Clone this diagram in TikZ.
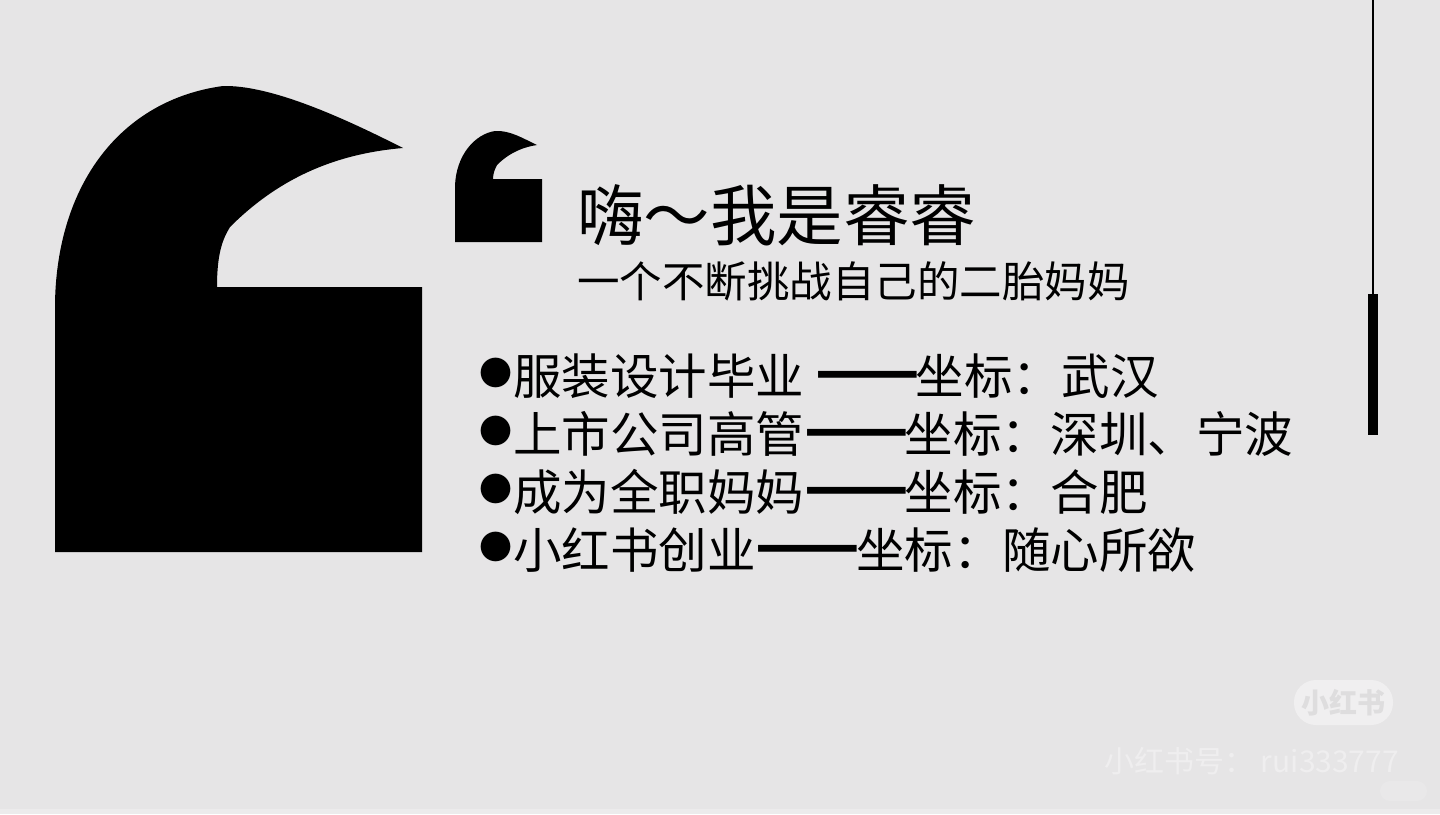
\documentclass[tikz,border=0pt]{standalone}
\usepackage{fontspec}
\setmainfont{Noto Sans CJK SC}
\definecolor{bgc}{HTML}{E6E5E6}
\definecolor{wmlight}{HTML}{F0EFF0}
\definecolor{wmdark}{HTML}{DEDDDE}
\definecolor{wmtext}{HTML}{EFEEEF}
\definecolor{stripc}{HTML}{ECEBEC}
\definecolor{pillc}{HTML}{E9E8E9}
\newcommand{\blt}{\raisebox{8.5pt}{\fontsize{33pt}{33pt}\selectfont ●}\hspace{1pt}}
\newcommand{\dsh}{\raisebox{1.5pt}{\fontsize{61pt}{61pt}\selectfont\bfseries ——}\hspace{-4pt}}
\tikzset{
  title/.style={anchor=base west,inner sep=0pt,font=\fontsize{66.5pt}{66.5pt}\selectfont,text=black},
  subtitle/.style={anchor=base west,inner sep=0pt,font=\fontsize{42.5pt}{42.5pt}\selectfont,text=black},
  bodyline/.style={anchor=base west,inner sep=0pt,font=\fontsize{48.5pt}{48.5pt}\selectfont,text=black},
  wm/.style={anchor=base west,inner sep=0pt,text=wmtext,font=\fontsize{30pt}{30pt}\selectfont},
  blackshape/.style={fill=black,draw=none}
}
\begin{document}
\begin{tikzpicture}[x=1pt,y=-1pt]
\useasboundingbox (0,0) rectangle (1440,814);
\fill[bgc] (0,0) rectangle (1440,814);
\fill[stripc] (0,809) rectangle (1440,814);
% large quote mark
\path[blackshape] (55,552) -- (55,303)
  .. controls (57,185) and (120,100) .. (223,86)
  .. controls (270,85) and (340,116) .. (403,148)
  .. controls (345,153) and (285,172) .. (230,227)
  .. controls (222,240) and (217,255) .. (217,287)
  -- (422,287) -- (422,552) -- cycle;
% small quote mark
\path[blackshape] (455,242) -- (455,186)
  .. controls (456,155) and (475,134) .. (495,131)
  .. controls (510,130) and (524,139) .. (537,145)
  .. controls (524,147) and (510,152) .. (497,165)
  .. controls (495,169) and (493,173) .. (493,179)
  -- (542,179) -- (542,242) -- cycle;
% right rule
\draw[black,line width=1.5pt] (1373,0) -- (1373,295);
\fill[black] (1368,294) rectangle (1378,435);
% text
\node[title] (t1) at (577,240) {嗨～我是睿睿};
\node[subtitle] (t2) at (577,297) {一个不断挑战自己的二胎妈妈};
\node[bodyline] (l1) at (479,394) {\blt 服装设计毕业 \dsh 坐标：\hspace{0.5pt}武汉};
\node[bodyline] (l2) at (479,452) {\blt 上市公司高管\dsh 坐标：\hspace{0.5pt}深圳、宁波};
\node[bodyline] (l3) at (479,510) {\blt 成为全职妈妈\dsh 坐标：\hspace{0.5pt}合肥};
\node[bodyline] (l4) at (479,568) {\blt 小红书创业\dsh 坐标：\hspace{0.5pt}随心所欲};
% watermark
\node[fill=wmlight,draw=none,rounded corners=22pt,minimum width=99pt,minimum height=45pt,inner sep=0pt,text=wmdark,font=\fontsize{28pt}{28pt}\selectfont\bfseries] (wm1) at (1343.5,702.5) {小红书};
\node[wm] (wm2) at (1104,772) {小红书号： rui333777};
\node[fill=pillc,draw=none,rounded corners=10pt,minimum width=47pt,minimum height=20pt,inner sep=0pt] (wm3) at (1403.5,791) {};
\end{tikzpicture}
\end{document}
